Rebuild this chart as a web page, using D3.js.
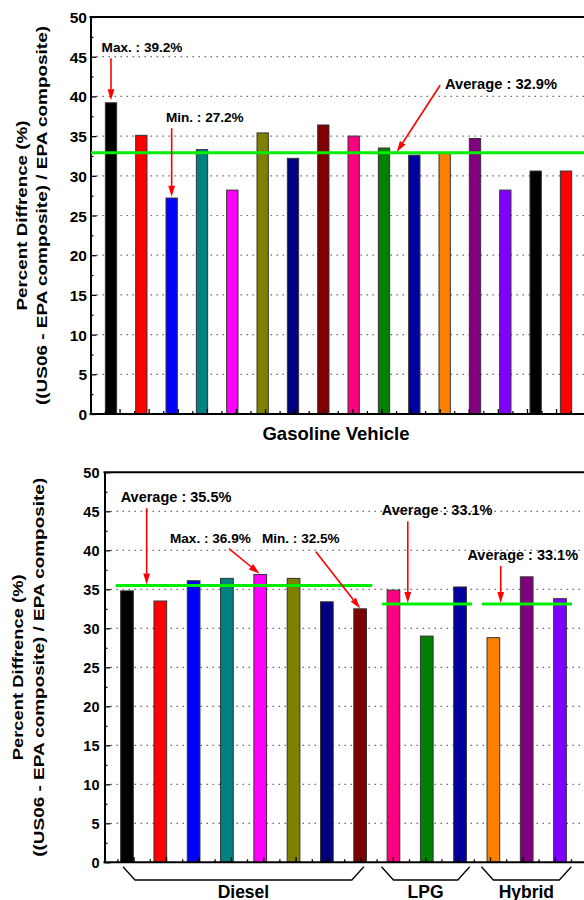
<!DOCTYPE html>
<html>
<head>
<meta charset="utf-8">
<script src="https://cdn.jsdelivr.net/npm/d3@7"></script>
<style>
  body { margin: 0; background: #fff; }
  svg { display: block; }
  text { font-family: Arial, "Liberation Sans", sans-serif; font-weight: bold; fill: #000; }
</style>
</head>
<body>
<svg id="chart" width="584" height="900"></svg>
<script>
// ---- Gasoline vehicles (upper panel) ----
const gasIds = d3.range(1, 17).map(i => "G" + i);
const gasValues = [39.2, 35.1, 27.2, 33.3, 28.2, 35.4, 32.2, 36.4, 35.0, 33.5, 32.6, 32.9, 34.7, 28.2, 30.6, 30.6];
const gasColors = ["#000000", "#ff0000", "#0000ff", "#008080", "#ff00ff", "#808000", "#000080", "#800000",
                   "#ff0080", "#008000", "#0000a0", "#ff8000", "#800080", "#8000ff", "#000000", "#ff0000"];
const gasAverage = 32.9;
const gasMax = 39.2;
const gasMin = 27.2;

// ---- Diesel / LPG / hybrid vehicles (lower panel) ----
const altIds = ["D1", "D2", "D3", "D4", "D5", "D6", "D7", "D8", "L1", "L2", "L3", "H1", "H2", "H3"];
const altValues = [34.8, 33.5, 36.1, 36.4, 36.9, 36.4, 33.4, 32.5, 34.9, 29.0, 35.3, 28.8, 36.6, 33.8];
const altColors = ["#000000", "#ff0000", "#0000ff", "#008080", "#ff00ff", "#808000", "#000080", "#800000",
                   "#ff0080", "#008000", "#0000a0", "#ff8000", "#800080", "#8000ff"];
const groupNames = ["Diesel", "LPG", "Hybrid"];
const groupFirst = [0, 8, 11];
const groupLast = [7, 10, 13];
const groupAverages = [35.5, 33.1, 33.1];
const dieselMax = 36.9;
const dieselMin = 32.5;

// ---- Axis text ----
const yTickValues = d3.range(0, 51, 5);
const yMinorValues = d3.range(2.5, 50, 5);
const yTitleLines = ["Percent Diffrence (%)", "((US06 - EPA composite) / EPA composite)"];
const gasAxisTitle = "Gasoline Vehicle";

const pct = v => d3.format(".1f")(v) + "%";
const svg = d3.select("#chart");

function arrow(g, x1, y1, x2, y2) {
  const a = Math.atan2(y2 - y1, x2 - x1);
  const L = 11, W = 3.4;
  const bx = x2 - L * Math.cos(a), by = y2 - L * Math.sin(a);
  g.append("line")
    .attr("x1", x1).attr("y1", y1).attr("x2", bx).attr("y2", by)
    .attr("stroke", "#ff0000").attr("stroke-width", 1.6);
  g.append("path")
    .attr("d", `M${x2},${y2}L${bx - W * Math.sin(a)},${by + W * Math.cos(a)}L${bx + W * Math.sin(a)},${by - W * Math.cos(a)}Z`)
    .attr("fill", "#ff0000");
}

function drawPanel(p) {
  const g = svg.append("g");
  const x = p.x, y = p.y;
  const left = p.left, right = 600;

  // dotted grid
  g.append("g").selectAll("line")
    .data(yTickValues.filter(v => v > 0 && v < 50))
    .join("line")
    .attr("x1", left).attr("x2", right)
    .attr("y1", d => y(d)).attr("y2", d => y(d))
    .attr("stroke", "#6a6a6a").attr("stroke-width", 1.2)
    .attr("stroke-dasharray", "1.5,4.5");

  // bars
  g.append("g").selectAll("rect")
    .data(p.values)
    .join("rect")
    .attr("x", (d, i) => x(i) - p.barWidth / 2)
    .attr("width", p.barWidth)
    .attr("y", d => y(d))
    .attr("height", d => y(0) - y(d))
    .attr("fill", (d, i) => p.colors[i])
    .attr("stroke", "#333").attr("stroke-width", 1);

  // y axis with inward ticks
  const ya = g.append("g").attr("transform", `translate(${left},0)`)
    .call(d3.axisLeft(y).tickValues(yTickValues).tickSizeInner(-6).tickSizeOuter(0)
      .tickPadding(p.labelPad).tickFormat(d3.format("d")));
  ya.select(".domain").attr("stroke", "#000").attr("stroke-width", 2);
  ya.selectAll(".tick line").attr("stroke", "#000").attr("stroke-width", 1.3);
  ya.selectAll(".tick text").attr("font-size", p.tickFont).attr("font-family", null).attr("fill", "#000")
    .attr("dy", "0.36em");
  const ym = g.append("g").attr("transform", `translate(${left},0)`)
    .call(d3.axisLeft(y).tickValues(yMinorValues).tickSizeInner(-3).tickSizeOuter(0).tickFormat(""));
  ym.select(".domain").remove();
  ym.selectAll(".tick line").attr("stroke", "#000").attr("stroke-width", 1.2);

  // bottom axis ticks (inward)
  const xt = p.tickScale;
  g.append("g").selectAll("line")
    .data(p.tickIdx)
    .join("line")
    .attr("x1", d => xt(d)).attr("x2", d => xt(d))
    .attr("y1", y(0)).attr("y2", d => y(0) - (Math.abs(d % 2) === p.majorParity ? 5 : 3))
    .attr("stroke", "#000").attr("stroke-width", 1.3);

  // frame lines: bottom axis and top border
  g.append("line").attr("x1", left - 1).attr("x2", right).attr("y1", y(0)).attr("y2", y(0))
    .attr("stroke", "#000").attr("stroke-width", 2);
  g.append("line").attr("x1", left - 1).attr("x2", right).attr("y1", y(50)).attr("y2", y(50))
    .attr("stroke", "#000").attr("stroke-width", 2);

  // y title (two lines)
  const mid = (y(0) + y(50)) / 2;
  yTitleLines.forEach((t, k) => {
    g.append("text")
      .attr("transform", `translate(${p.titleX[k]},${mid}) rotate(-90)`)
      .attr("text-anchor", "middle")
      .attr("font-size", 15.5)
      .attr("textLength", p.titleLen[k])
      .attr("lengthAdjust", "spacingAndGlyphs")
      .text(t);
  });
  return g;
}

// ---------------- Upper panel ----------------
const xGas = d3.scaleLinear().domain([0, gasIds.length - 1]).range([111, 566]);
const yGas = d3.scaleLinear().domain([0, 50]).range([414, 17]);
const gasTicks = d3.scaleLinear().domain([0, 32]).range([105.5, 105.5 + 14.55 * 32]);
const gTop = drawPanel({
  x: xGas, y: yGas, left: 90.5, values: gasValues, colors: gasColors, barWidth: 11.3,
  labelPad: 3.5, tickFont: 15.5, titleX: [26.5, 46.5], titleLen: [190, 379],
  tickScale: gasTicks, tickIdx: d3.range(0, 33), majorParity: 1
});

// average line
gTop.append("line")
  .attr("x1", 91).attr("x2", 600)
  .attr("y1", yGas(gasAverage)).attr("y2", yGas(gasAverage))
  .attr("stroke", "#00ee00").attr("stroke-width", 3);

// annotations
const iMax = gasValues.indexOf(gasMax), iMin = gasValues.indexOf(gasMin);
gTop.append("text").attr("x", xGas(iMax - 0.31)).attr("y", yGas(45.6)).attr("font-size", 13.6).text("Max. : " + pct(gasMax));
arrow(gTop, xGas(iMax), yGas(44.8), xGas(iMax), yGas(gasMax + 0.3));
gTop.append("text").attr("x", xGas(iMin - 0.19)).attr("y", yGas(36.8)).attr("font-size", 13.6).text("Min. : " + pct(gasMin));
arrow(gTop, xGas(iMin), yGas(36.0), xGas(iMin), yGas(gasMin + 0.15));
gTop.append("text").attr("x", xGas(11.01)).attr("y", yGas(40.9)).attr("font-size", 14.7).text("Average : " + pct(gasAverage));
arrow(gTop, xGas(10.85), yGas(41.4), xGas(9.42), yGas(gasAverage + 0.1));

gTop.append("text").attr("x", 336).attr("y", 440).attr("text-anchor", "middle")
  .attr("font-size", 18.5).text(gasAxisTitle);

// ---------------- Lower panel ----------------
const xAlt = d3.scaleLinear().domain([0, altIds.length - 1]).range([127, 560]);
const yAlt = d3.scaleLinear().domain([0, 50]).range([862.3, 472.3]);
const altTicks = d3.scaleLinear().domain([0, 1]).range([393.3, 393.3 + 16.2]);
const gBot = drawPanel({
  x: xAlt, y: yAlt, left: 104.5, values: altValues, colors: altColors, barWidth: 12.7,
  labelPad: 5, tickFont: 14.5, titleX: [23.3, 44], titleLen: [186, 379],
  tickScale: altTicks, tickIdx: d3.range(-17, 13), majorParity: 0
});

// group averages
groupNames.forEach((name, k) => {
  gBot.append("line")
    .attr("x1", xAlt(groupFirst[k] - 0.34)).attr("x2", xAlt(groupLast[k] + 0.36))
    .attr("y1", yAlt(groupAverages[k])).attr("y2", yAlt(groupAverages[k]))
    .attr("stroke", "#00ee00").attr("stroke-width", 3);
});

// annotations
gBot.append("text").attr("x", xAlt(-0.19)).attr("y", yAlt(46.2)).attr("font-size", 14.5).text("Average : " + pct(groupAverages[0]));
arrow(gBot, xAlt(0.59), yAlt(45.4), xAlt(0.59), yAlt(groupAverages[0] + 0.1));
const jMax = altValues.indexOf(dieselMax), jMin = altValues.indexOf(dieselMin);
gBot.append("text").attr("x", xAlt(1.29)).attr("y", yAlt(41.0)).attr("font-size", 13.6).text("Max. : " + pct(dieselMax));
arrow(gBot, xAlt(3.06), yAlt(40.2), xAlt(jMax - 0.02), yAlt(dieselMax + 0.1));
gBot.append("text").attr("x", xAlt(4.05)).attr("y", yAlt(41.0)).attr("font-size", 13.6).text("Min. : " + pct(dieselMin));
arrow(gBot, xAlt(5.67), yAlt(39.8), xAlt(jMin), yAlt(dieselMin + 0.05));
gBot.append("text").attr("x", xAlt(7.65)).attr("y", yAlt(44.55)).attr("font-size", 14.5).text("Average : " + pct(groupAverages[1]));
arrow(gBot, xAlt(8.43), yAlt(43.7), xAlt(8.43), yAlt(groupAverages[1] + 0.15));
gBot.append("text").attr("x", xAlt(10.22)).attr("y", yAlt(38.8)).attr("font-size", 14.5).text("Average : " + pct(groupAverages[2]));
arrow(gBot, xAlt(11.22), yAlt(38.0), xAlt(11.22), yAlt(groupAverages[2] + 0.15));

// group braces below the axis
const braceSpan = [[0.24, 6.75], [8.0, 9.93], [11.0, 12.98]];
const braceDiag = 0.36;
groupNames.forEach((name, k) => {
  const [a, b] = braceSpan[k];
  const y0 = yAlt(0) + 4.5, y1 = yAlt(0) + 17.7;
  gBot.append("path")
    .attr("d", `M${xAlt(a - braceDiag)},${y0}L${xAlt(a)},${y1}L${xAlt(b)},${y1}L${xAlt(b + braceDiag)},${y0}`)
    .attr("fill", "none").attr("stroke", "#000").attr("stroke-width", 1.3);
  gBot.append("text").attr("x", xAlt((a + b) / 2)).attr("y", 897.5).attr("text-anchor", "middle")
    .attr("font-size", 17.5).text(name);
});
</script>
</body>
</html>
